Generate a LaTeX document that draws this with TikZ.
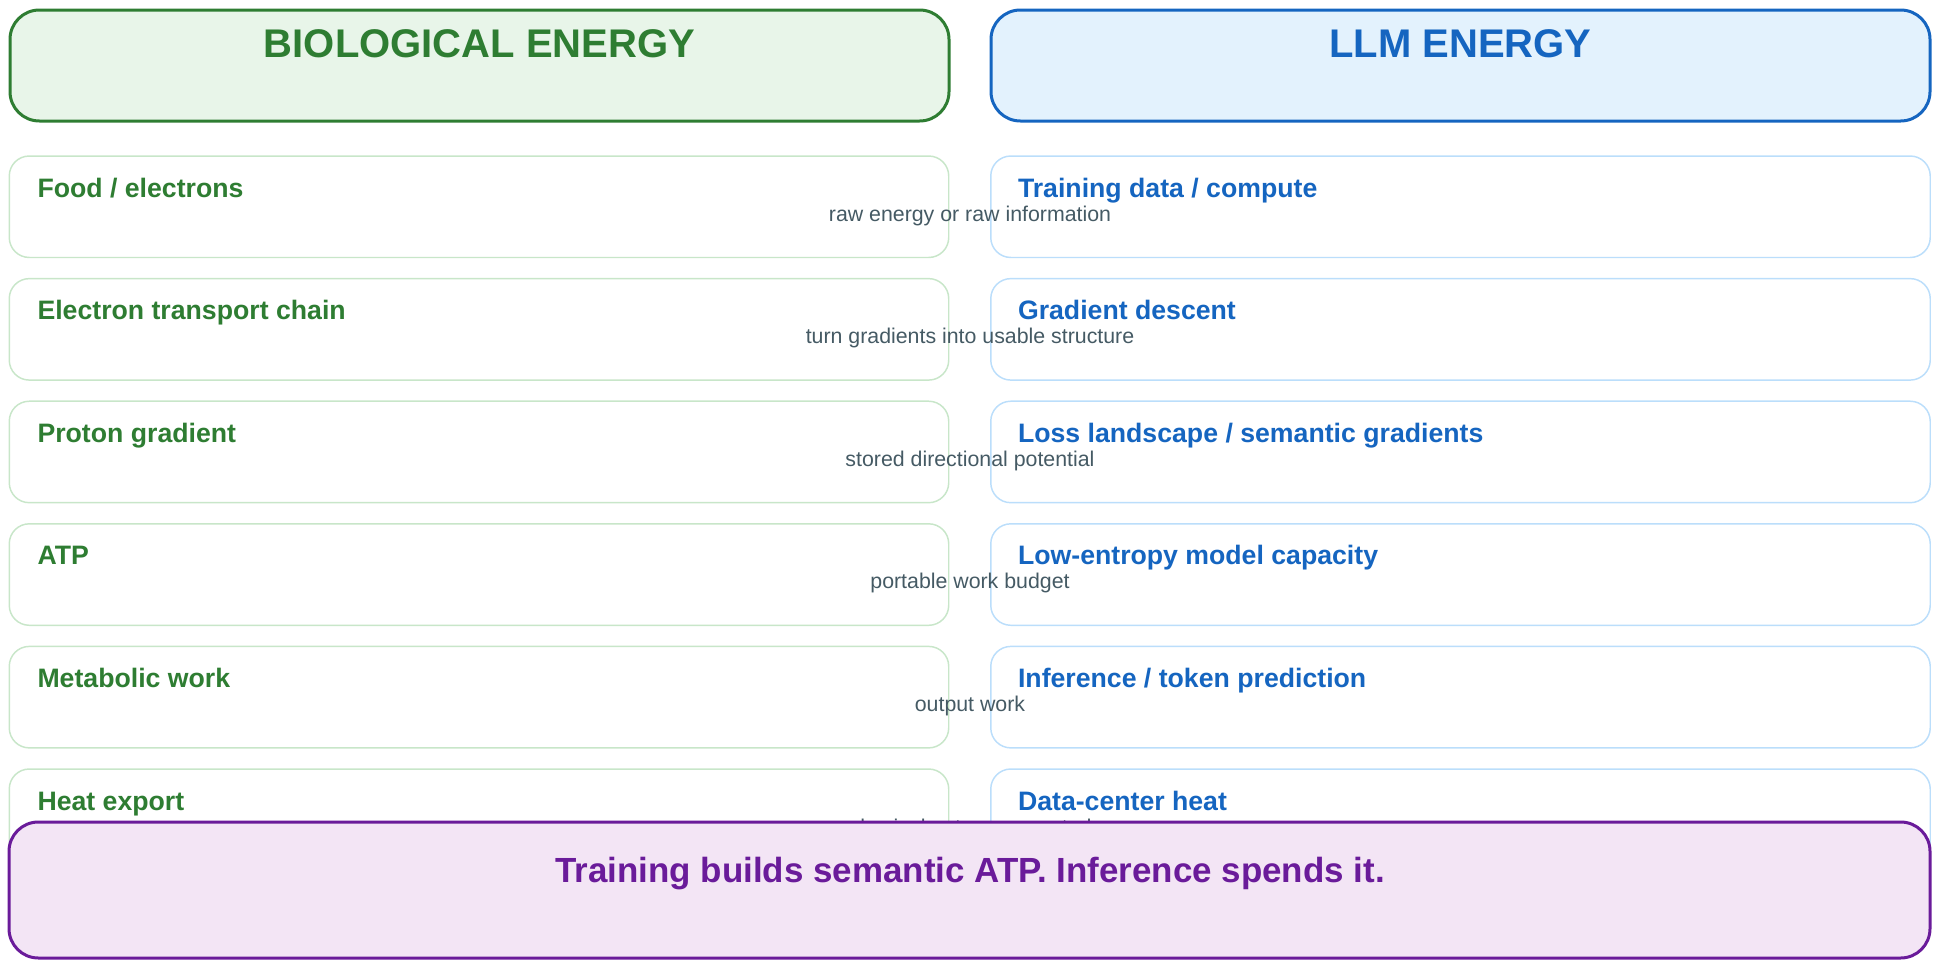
\documentclass[tikz,border=0pt]{standalone}
\usepackage{fontspec}
\setmainfont{Liberation Sans}
\usetikzlibrary{calc}

\definecolor{bioDark}{HTML}{2E7D32}
\definecolor{bioFill}{HTML}{E8F5E9}
\definecolor{bioLine}{HTML}{C8E6C9}
\definecolor{llmDark}{HTML}{1565C0}
\definecolor{llmFill}{HTML}{E3F2FD}
\definecolor{llmLine}{HTML}{BBDEFB}
\definecolor{sumDark}{HTML}{6A1B9A}
\definecolor{sumFill}{HTML}{F3E5F5}
\definecolor{linkGray}{HTML}{455A64}

\tikzset{
	box/.style={rectangle, inner sep=0pt, outer sep=0pt},
	headbox/.style={box, line width=2.25pt, rounded corners=22pt, minimum width=704.25pt, minimum height=83.25pt},
	rowbox/.style={box, line width=1.1pt, rounded corners=15pt, fill=white, minimum width=704.6pt, minimum height=76.1pt},
	headtext/.style={font=\fontsize{30pt}{36pt}\selectfont\bfseries, anchor=base, inner sep=0pt},
	rowtext/.style={font=\fontsize{20pt}{24pt}\selectfont\bfseries, anchor=base west, inner sep=0pt},
	linktext/.style={font=\fontsize{16pt}{19pt}\selectfont, text=linkGray, anchor=base, inner sep=0pt}
}

\begin{document}
\begin{tikzpicture}[x=0.75pt, y=-0.75pt]
\useasboundingbox (0,0) rectangle (1942,960);

% column heads
\node [headbox, draw=bioDark, fill=bioFill] (bioHead) at (479.5,65.5) {};
\node [headtext, text=bioDark] (bioTitle) at (479.5,57) {BIOLOGICAL ENERGY};
\node [headbox, draw=llmDark, fill=llmFill] (llmHead) at (1460.5,65.5) {};
\node [headtext, text=llmDark] (llmTitle) at (1460.5,57) {LLM ENERGY};

% rows
\foreach \i / \bio / \llm / \link in {
	1/{Food / electrons}/{Training data / compute}/{raw energy or raw information},
	2/{Electron transport chain}/{Gradient descent}/{turn gradients into usable structure},
	3/{Proton gradient}/{Loss landscape / semantic gradients}/{stored directional potential},
	4/{ATP}/{Low-entropy model capacity}/{portable work budget},
	5/{Metabolic work}/{Inference / token prediction}/{output work},
	6/{Heat export}/{Data-center heat}/{physical entropy exported}} {
	\pgfmathsetmacro{\rowtop}{156+(\i-1)*122.6}
	\node [rowbox, draw=bioLine] (bio\i) at (479,\rowtop+50.75) {};
	\node [rowbox, draw=llmLine] (llm\i) at (1460.5,\rowtop+50.75) {};
	\node [rowtext, text=bioDark] (bioName\i) at ($(bio\i.north west)+(28,41)$) {\bio};
	\node [rowtext, text=llmDark] (llmName\i) at ($(llm\i.north west)+(27,41)$) {\llm};
	\node [linktext] (link\i) at (970,\rowtop+65) {\link};
}

% summary
\node [box, draw=sumDark, fill=sumFill, line width=2.25pt, rounded corners=22pt,
	minimum width=1440.75pt, minimum height=102pt] (summary) at (969.5,890) {};
\node [font=\fontsize{26.2pt}{31pt}\selectfont\bfseries, text=sumDark, anchor=base, inner sep=0pt] (summaryText)
	at (970,882) {Training builds semantic ATP. Inference spends it.};
\end{tikzpicture}
\end{document}
